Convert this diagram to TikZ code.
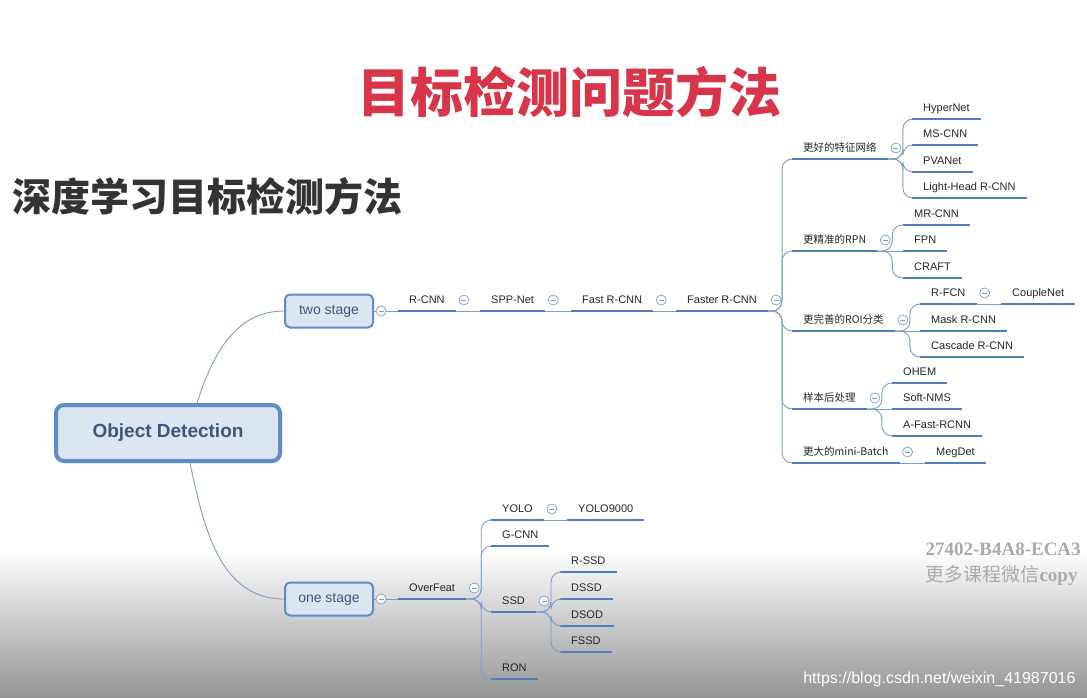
\documentclass[tikz,border=0pt]{standalone}
\usepackage{fontspec}
\setmainfont{Liberation Sans}
\newfontfamily\cjk{Noto Sans CJK SC}
\newfontfamily\serifwm{Liberation Serif}
\usetikzlibrary{positioning}

\definecolor{titlered}{HTML}{D8354B}
\definecolor{subtitlegray}{HTML}{333333}
\definecolor{boxfill}{HTML}{DCE6F2}
\definecolor{boxline}{HTML}{5E8CC9}
\definecolor{boxtext}{HTML}{3B577D}
\definecolor{ulinecol}{HTML}{4F7EBF}
\definecolor{linkcol}{HTML}{7F9DC7}
\definecolor{labeltext}{HTML}{262626}

\tikzset{
    ubar/.style={draw=ulinecol, line width=2.4pt},
    topic/.style={
        anchor=south west,
        inner xsep=11pt,
        inner ysep=4.5pt,
        text height=8pt,
        text depth=2.5pt,
        text=labeltext,
        font=\fontsize{11}{13}\selectfont,
        append after command={(\tikzlastnode.south west) edge[ubar] (\tikzlastnode.south east)}
    },
    cntopic/.style={topic, font=\cjk\fontsize{10.5}{13}\selectfont},
    link/.style={draw=linkcol, line width=0.9pt, rounded corners=10pt},
    fold/.style={
        circle, draw=linkcol, fill=white, line width=0.7pt,
        minimum size=10pt, inner sep=0pt,
        path picture={\draw[linkcol, line width=0.7pt]
            ([xshift=-2.5pt]path picture bounding box.center) --
            ([xshift=2.5pt]path picture bounding box.center);}
    },
    stagebox/.style={
        rectangle, rounded corners=5pt, draw=boxline, fill=boxfill,
        line width=2pt, minimum width=88pt, minimum height=33pt,
        text=boxtext, font=\fontsize{14}{16}\selectfont
    },
    rootbox/.style={
        rectangle, rounded corners=8pt, draw=boxline, fill=boxfill,
        line width=4pt, minimum width=224pt, minimum height=56pt,
        text=boxtext, font=\bfseries\fontsize{19}{22}\selectfont
    }
}

\begin{document}
\begin{tikzpicture}[x=1pt,y=-1pt]
    \useasboundingbox (0,0) rectangle (1087,698);
    \clip (0,0) rectangle (1087,698);
    \fill[white] (0,0) rectangle (1087,698);
    \shade[top color=white, middle color=black!8, bottom color=black!42] (0,550) rectangle (1087,698);

    % headings
    \node[text=titlered, font=\cjk\bfseries\fontsize{53}{60}\selectfont] (title) at (569,92) {目标检测问题方法};
    \node[anchor=west, text=subtitlegray, font=\cjk\bfseries\fontsize{39}{45}\selectfont] (subtitle) at (9,196) {深度学习目标检测方法};

    % main boxes
    \node[rootbox] (root) at (168,433) {Object Detection};
    \node[stagebox] (two) at (329,311) {two stage};
    \node[stagebox] (one) at (329,599) {one stage};

    % two stage chain
    \node[topic] (rcnn) at (398,311) {R-CNN};
    \node[topic] (spp) at (480,311) {SPP-Net};
    \node[topic] (fast) at (571,311) {Fast R-CNN};
    \node[topic] (faster) at (676,311) {Faster R-CNN};

    % branches of Faster R-CNN
    \node[cntopic] (feat) at (792,159) {更好的特征网络};
    \node[cntopic] (rpn) at (792,251) {更精准的RPN};
    \node[cntopic] (roi) at (792,331) {更完善的ROI分类};
    \node[cntopic] (post) at (792,409) {样本后处理};
    \node[cntopic] (batch) at (792,463) {更大的mini-Batch};

    \node[topic] (hyper) at (912,119) {HyperNet};
    \node[topic] (mscnn) at (912,145) {MS-CNN};
    \node[topic] (pva) at (912,172) {PVANet};
    \node[topic] (light) at (912,198) {Light-Head R-CNN};

    \node[topic] (mrcnn) at (903,225) {MR-CNN};
    \node[topic] (fpn) at (903,251) {FPN};
    \node[topic] (craft) at (903,278) {CRAFT};

    \node[topic] (rfcn) at (920,304) {R-FCN};
    \node[topic] (couple) at (1001,304) {CoupleNet};
    \node[topic] (mask) at (920,331) {Mask R-CNN};
    \node[topic] (cascade) at (920,357) {Cascade R-CNN};

    \node[topic] (ohem) at (892,383) {OHEM};
    \node[topic] (softnms) at (892,409) {Soft-NMS};
    \node[topic] (afast) at (892,436) {A-Fast-RCNN};

    \node[topic] (megdet) at (925,463) {MegDet};

    % one stage
    \node[topic] (overfeat) at (398,599) {OverFeat};
    \node[topic] (yolo) at (491,520) {YOLO};
    \node[topic] (yolonine) at (567,520) {YOLO9000};
    \node[topic] (gcnn) at (491,546) {G-CNN};
    \node[topic] (ssd) at (491,612) {SSD};
    \node[topic] (ron) at (491,679) {RON};
    \node[topic] (rssd) at (560,572) {R-SSD};
    \node[topic] (dssd) at (560,599) {DSSD};
    \node[topic] (dsod) at (560,626) {DSOD};
    \node[topic] (fssd) at (560,652) {FSSD};

    % connectors
    \draw[link] ([xshift=29pt]root.north) to[out=72,in=180] (two.west);
    \draw[link] ([xshift=22pt]root.south) to[out=-78,in=180] (one.west);

    \draw[link] (two.east) -- (rcnn.south west);
    \draw[link] (rcnn.south east) -- (spp.south west);
    \draw[link] (spp.south east) -- (fast.south west);
    \draw[link] (fast.south east) -- (faster.south west);
    \foreach \c in {feat,rpn,roi,post,batch}
        \draw[link] (faster.south east) -- ++(14pt,0) |- (\c.south west);
    \foreach \c in {hyper,mscnn,pva,light}
        \draw[link] (feat.south east) -- ++(15pt,0) |- (\c.south west);
    \foreach \c in {mrcnn,craft}
        \draw[link] (rpn.south east) -- ++(15pt,0) |- (\c.south west);
    \draw[link] (rpn.south east) -- (fpn.south west);
    \foreach \c in {rfcn,cascade}
        \draw[link] (roi.south east) -- ++(15pt,0) |- (\c.south west);
    \draw[link] (roi.south east) -- (mask.south west);
    \draw[link] (rfcn.south east) -- (couple.south west);
    \foreach \c in {ohem,afast}
        \draw[link] (post.south east) -- ++(15pt,0) |- (\c.south west);
    \draw[link] (post.south east) -- (softnms.south west);
    \draw[link] (batch.south east) -- (megdet.south west);

    \draw[link] (one.east) -- (overfeat.south west);
    \foreach \c in {yolo,gcnn,ssd,ron}
        \draw[link] (overfeat.south east) -- ++(15pt,0) |- (\c.south west);
    \draw[link] (yolo.south east) -- (yolonine.south west);
    \foreach \c in {rssd,dssd,dsod,fssd}
        \draw[link] (ssd.south east) -- ++(15pt,0) |- (\c.south west);

    % collapse marks
    \node[fold] (foldtwo) at ([xshift=7pt]two.east) {};
    \node[fold] (foldone) at ([xshift=7pt]one.east) {};
    \foreach \n in {rcnn,spp,fast,faster,feat,rpn,roi,post,batch,rfcn,overfeat,yolo,ssd}
        \node[fold] (fold\n) at ([xshift=8pt,yshift=11pt]\n.south east) {};

    % watermarks
    \node[anchor=west, text=black!33, font=\serifwm\bfseries\fontsize{19}{22}\selectfont] (wmcode) at (922,549) {27402-B4A8-ECA3};
    \node[anchor=west, text=black!33, font=\cjk\fontsize{19}{22}\selectfont] (wmtext) at (922,576) {更多课程微信{\serifwm\bfseries copy}};
    \node[anchor=east, text=white, font=\fontsize{16}{18}\selectfont] (url) at (1079,679) {https://blog.csdn.net/weixin\_41987016};
\end{tikzpicture}
\end{document}
